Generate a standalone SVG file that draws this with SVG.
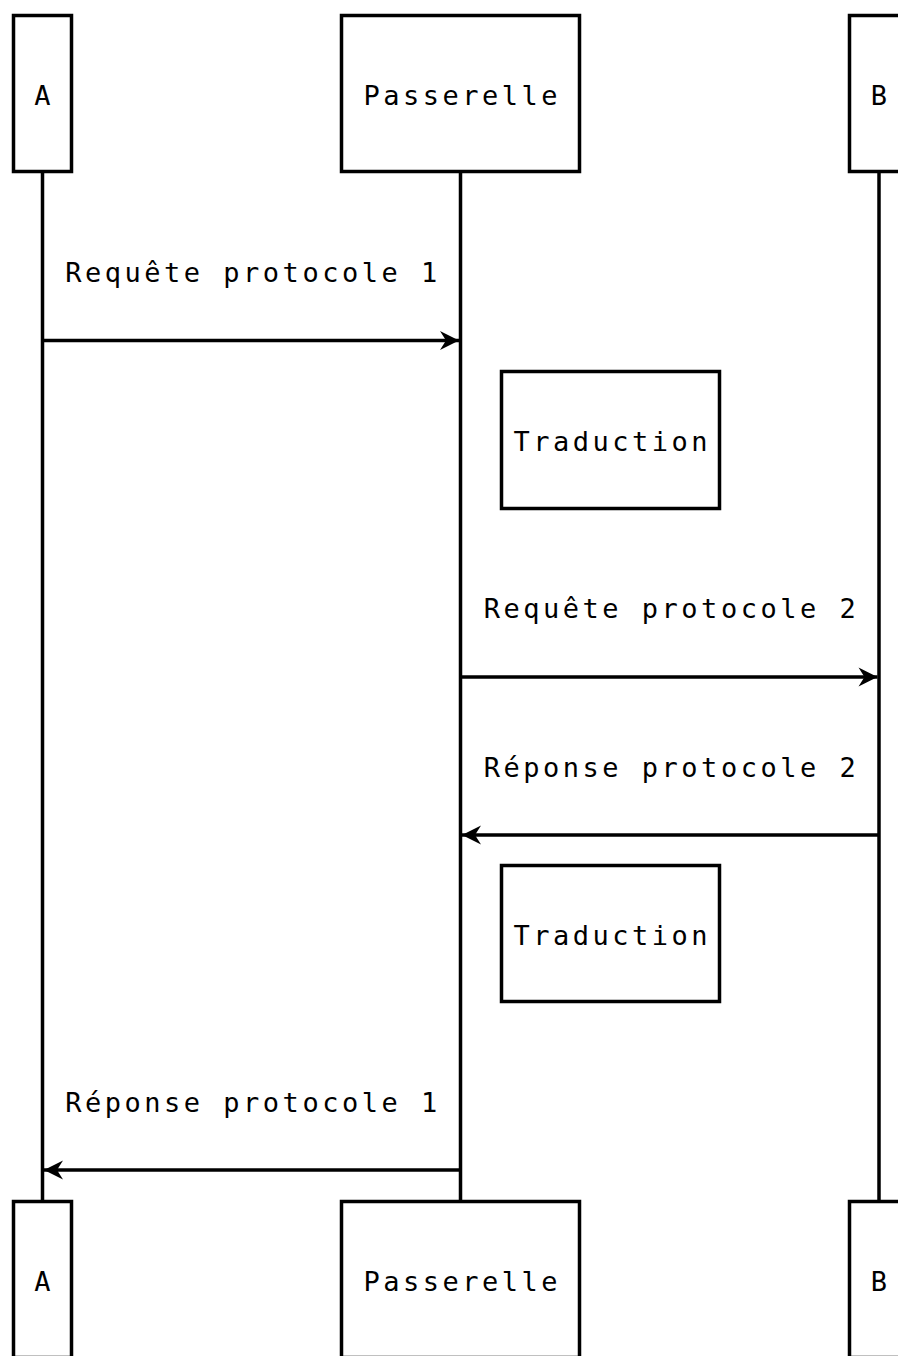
<svg xmlns="http://www.w3.org/2000/svg" width="898" height="1356" viewBox="0 0 898 1356">
<style>
.box{fill:#fff;stroke:#000;stroke-width:3.5}
.life{stroke:#000;stroke-width:3.5;fill:none}
.msg{stroke:#000;stroke-width:3.5;fill:none;marker-end:url(#ah)}
text{font-family:"DejaVu Sans Mono","Liberation Mono",monospace;font-size:27px;letter-spacing:3.5px;fill:#000;text-anchor:middle}
</style>
<defs>
<marker id="ah" markerUnits="userSpaceOnUse" viewBox="-20 -10 22 20" refX="0" refY="0" markerWidth="22" markerHeight="20" orient="auto">
<path d="M0,0 L-19,-9.5 L-13,0 L-19,9.5 Z" fill="#000"/>
</marker>
</defs>
<rect width="898" height="1356" fill="#fff"/>
<g id="lifelines">
<line class="life" x1="42.5" y1="172" x2="42.5" y2="1200"/>
<line class="life" x1="460.5" y1="172" x2="460.5" y2="1200"/>
<line class="life" x1="879" y1="172" x2="879" y2="1200"/>
</g>
<g id="actor-A-top"><rect class="box" x="13.5" y="15.5" width="58" height="156"/><text x="44.2" y="105">A</text></g>
<g id="actor-P-top"><rect class="box" x="341.5" y="15.5" width="238" height="156"/><text x="462.2" y="105">Passerelle</text></g>
<g id="actor-B-top"><rect class="box" x="849.5" y="15.5" width="58" height="156"/><text x="880.7" y="105">B</text></g>
<g id="actor-A-bottom"><rect class="box" x="13.5" y="1201.5" width="58" height="156"/><text x="44.2" y="1291">A</text></g>
<g id="actor-P-bottom"><rect class="box" x="341.5" y="1201.5" width="238" height="156"/><text x="462.2" y="1291">Passerelle</text></g>
<g id="actor-B-bottom"><rect class="box" x="849.5" y="1201.5" width="58" height="156"/><text x="880.7" y="1291">B</text></g>
<g id="note-1"><rect class="box" x="501.5" y="371.5" width="218" height="137"/><text x="612.2" y="451">Traduction</text></g>
<g id="note-2"><rect class="box" x="501.5" y="865.5" width="218" height="136"/><text x="612.2" y="945">Traduction</text></g>
<g id="connectors">
<line class="msg" x1="42.5" y1="340.5" x2="459" y2="340.5"/>
<line class="msg" x1="460.5" y1="677" x2="877.5" y2="677"/>
<line class="msg" x1="879" y1="835" x2="462" y2="835"/>
<line class="msg" x1="460.5" y1="1170" x2="44" y2="1170"/>
</g>
<g id="labels">
<text x="253" y="282">Requête protocole 1</text>
<text x="671.5" y="618">Requête protocole 2</text>
<text x="671.5" y="777">Réponse protocole 2</text>
<text x="253" y="1112">Réponse protocole 1</text>
</g>
</svg>
